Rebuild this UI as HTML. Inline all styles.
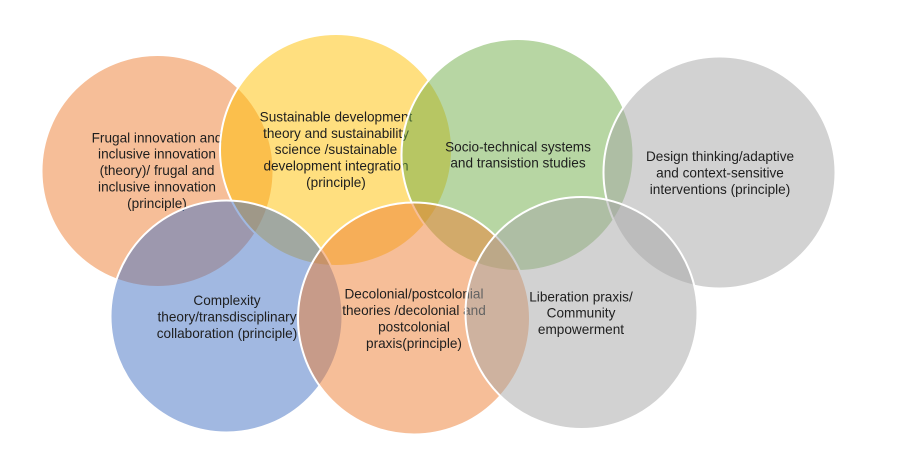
<!DOCTYPE html>
<html>
<head>
<meta charset="utf-8">
<style>
  html, body { margin: 0; padding: 0; background: #ffffff; }
  body { width: 899px; height: 468px; overflow: hidden; }
  svg { display: block; }
  text { font-family: "Liberation Sans", Arial, sans-serif; font-size: 13.6px; fill: #1e1e1e; text-anchor: middle; }
</style>
</head>
<body>
<svg width="899" height="468" viewBox="0 0 899 468" xmlns="http://www.w3.org/2000/svg">
  <rect x="0" y="0" width="899" height="468" fill="#ffffff"/>

  <!-- 1 orange -->
  <circle cx="157.5" cy="171" r="116" fill="#ED7D31" fill-opacity="0.5" stroke="#ffffff" stroke-width="2"/>
  <text x="157" y="142.3">Frugal innovation and</text>
  <text x="157" y="158.7">inclusive innovation</text>
  <text x="157" y="175.1">(theory)/ frugal and</text>
  <text x="157" y="191.5">inclusive innovation</text>
  <text x="157" y="207.9">(principle)</text>

  <!-- 2 yellow -->
  <circle cx="336" cy="150" r="116" fill="#FFC000" fill-opacity="0.5" stroke="#ffffff" stroke-width="2"/>
  <text x="336" y="121.4">Sustainable development</text>
  <text x="336" y="137.8">theory and sustainability</text>
  <text x="336" y="154.2">science /sustainable</text>
  <text x="336" y="170.6">development integration</text>
  <text x="336" y="187">(principle)</text>

  <!-- 3 green -->
  <circle cx="517.5" cy="155" r="116" fill="#70AD47" fill-opacity="0.5" stroke="#ffffff" stroke-width="2"/>
  <text x="518" y="151.3">Socio-technical systems</text>
  <text x="518" y="167.7">and transistion studies</text>

  <!-- 4 gray -->
  <circle cx="719.5" cy="172.5" r="116" fill="#A5A5A5" fill-opacity="0.5" stroke="#ffffff" stroke-width="2"/>
  <text x="720" y="161">Design thinking/adaptive</text>
  <text x="720" y="177.4">and context-sensitive</text>
  <text x="720" y="193.8">interventions (principle)</text>

  <!-- 5 blue -->
  <circle cx="226.5" cy="316.5" r="116" fill="#4472C4" fill-opacity="0.5" stroke="#ffffff" stroke-width="2"/>
  <text x="227" y="305">Complexity</text>
  <text x="227" y="321.4">theory/transdisciplinary</text>
  <text x="227" y="337.8">collaboration (principle)</text>

  <!-- 6 orange -->
  <circle cx="414" cy="318.5" r="116" fill="#ED7D31" fill-opacity="0.5" stroke="#ffffff" stroke-width="2"/>
  <text x="414" y="298.7">Decolonial/postcolonial</text>
  <text x="414" y="315.1">theories /decolonial and</text>
  <text x="414" y="331.5">postcolonial</text>
  <text x="414" y="347.9">praxis(principle)</text>

  <!-- 7 gray -->
  <circle cx="581.5" cy="313" r="116" fill="#A5A5A5" fill-opacity="0.5" stroke="#ffffff" stroke-width="2"/>
  <text x="581" y="301.3">Liberation praxis/</text>
  <text x="581" y="317.7">Community</text>
  <text x="581" y="334.1">empowerment</text>
</svg>
</body>
</html>
